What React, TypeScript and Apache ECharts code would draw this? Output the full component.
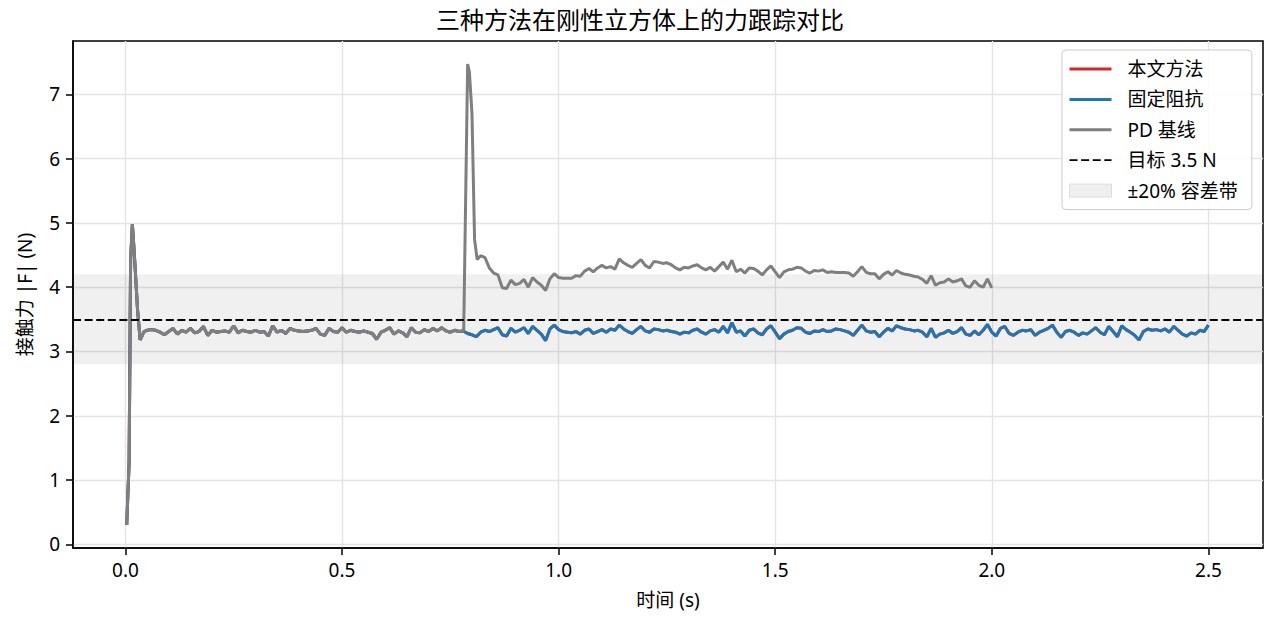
import { useEffect, useRef } from 'react';
import * as echarts from 'echarts';

const FONT = "'Noto Sans', 'Noto Sans CJK SC', sans-serif";
const DT = 0.01;

const X_TICKS = [0, 0.5, 1, 1.5, 2, 2.5];
const Y_TICKS = [0, 1, 2, 3, 4, 5, 6, 7];

const TARGET = 3.5;
const BAND_LOW = 2.8;
const BAND_HIGH = 4.2;

// contact transient, same for every controller
const startupTime = [0.003, 0.0085, 0.012, 0.016, 0.02, 0.028, 0.034, 0.043];
const startupForce = [0.3, 1.27, 4.42, 4.98, 4.58, 3.65, 3.18, 3.31];

// steady contact 0.05 .. 0.78 s, every 0.01 s (curves overlap here)
const sharedStart = 0.05;
const sharedForce = [
  3.33, 3.34, 3.33, 3.3, 3.26, 3.31, 3.36, 3.27, 3.33, 3.3,
  3.36, 3.29, 3.31, 3.39, 3.25, 3.33, 3.3, 3.31, 3.32, 3.3,
  3.4, 3.29, 3.33, 3.31, 3.3, 3.33, 3.3, 3.31, 3.24, 3.4,
  3.3, 3.33, 3.28, 3.36, 3.33, 3.32, 3.31, 3.32, 3.33, 3.36,
  3.27, 3.25, 3.36, 3.31, 3.3, 3.37, 3.3, 3.33, 3.31, 3.3,
  3.32, 3.3, 3.28, 3.19, 3.3, 3.33, 3.37, 3.27, 3.32, 3.29,
  3.23, 3.37, 3.3, 3.29, 3.34, 3.31, 3.36, 3.32, 3.37, 3.32,
  3.3, 3.33, 3.31, 3.32,
];

// fixed impedance 0.79 .. 2.50 s
const impedanceStart = 0.79;
const impedanceForce = [
  3.28, 3.26, 3.23, 3.3, 3.33, 3.31, 3.34, 3.37, 3.26, 3.24,
  3.36, 3.3, 3.33, 3.37, 3.28, 3.39, 3.33, 3.27, 3.17, 3.35,
  3.41, 3.34, 3.31, 3.3, 3.29, 3.31, 3.27, 3.33, 3.35, 3.28,
  3.31, 3.34, 3.3, 3.35, 3.33, 3.41, 3.35, 3.31, 3.28, 3.34,
  3.39, 3.32, 3.3, 3.35, 3.34, 3.32, 3.33, 3.31, 3.3, 3.27,
  3.3, 3.29, 3.33, 3.35, 3.3, 3.27, 3.32, 3.34, 3.3, 3.39,
  3.29, 3.45, 3.3, 3.32, 3.24, 3.33, 3.35, 3.29, 3.26, 3.35,
  3.4, 3.3, 3.2, 3.27, 3.31, 3.33, 3.37, 3.36, 3.3, 3.28,
  3.32, 3.31, 3.34, 3.31, 3.32, 3.35, 3.34, 3.32, 3.3, 3.25,
  3.33, 3.41, 3.32, 3.3, 3.31, 3.23, 3.3, 3.36, 3.32, 3.4,
  3.37, 3.35, 3.34, 3.32, 3.33, 3.3, 3.23, 3.36, 3.22, 3.27,
  3.29, 3.33, 3.28, 3.31, 3.37, 3.27, 3.25, 3.32, 3.26, 3.33,
  3.42, 3.3, 3.24, 3.36, 3.39, 3.28, 3.25, 3.3, 3.33, 3.32,
  3.34, 3.25, 3.3, 3.33, 3.36, 3.41, 3.3, 3.22, 3.31, 3.33,
  3.3, 3.25, 3.29, 3.27, 3.32, 3.37, 3.3, 3.26, 3.39, 3.31,
  3.23, 3.4, 3.34, 3.3, 3.25, 3.18, 3.31, 3.35, 3.33, 3.34,
  3.32, 3.35, 3.3, 3.39, 3.33, 3.27, 3.24, 3.29, 3.27, 3.33,
  3.31, 3.41,
];

// PD baseline: impact spike, then 0.82 .. 2.00 s
const pdSpikeTime = [0.781, 0.79, 0.794, 0.8, 0.806, 0.812];
const pdSpikeForce = [3.36, 7.47, 7.35, 6.7, 4.74, 4.43];
const pdStart = 0.82;
const pdForce = [
  4.49, 4.46, 4.3, 4.22, 4.19, 3.99, 3.98, 4.11, 4.04, 4.06,
  4.12, 4.0, 4.15, 4.08, 4.03, 3.95, 4.13, 4.21, 4.15, 4.14,
  4.14, 4.14, 4.18, 4.17, 4.25, 4.29, 4.24, 4.3, 4.34, 4.3,
  4.32, 4.28, 4.44, 4.38, 4.34, 4.31, 4.37, 4.43, 4.34, 4.3,
  4.4, 4.39, 4.37, 4.38, 4.35, 4.3, 4.27, 4.31, 4.3, 4.33,
  4.35, 4.3, 4.27, 4.31, 4.25, 4.32, 4.39, 4.28, 4.42, 4.24,
  4.28, 4.22, 4.3, 4.29, 4.25, 4.19, 4.27, 4.33, 4.24, 4.15,
  4.24, 4.27, 4.28, 4.31, 4.3, 4.25, 4.22, 4.26, 4.25, 4.27,
  4.23, 4.24, 4.23, 4.23, 4.23, 4.22, 4.17, 4.24, 4.32, 4.23,
  4.21, 4.21, 4.13, 4.2, 4.24, 4.19, 4.26, 4.22, 4.2, 4.19,
  4.17, 4.16, 4.12, 4.06, 4.18, 4.03, 4.07, 4.08, 4.13, 4.08,
  4.1, 4.13, 4.02, 4.0, 4.1, 4.03, 4.0, 4.13, 3.99,
];

const pairs = (times: number[], values: number[]) => times.map((t, i) => [t, values[i]]);
const sampled = (t0: number, values: number[]) =>
  values.map((v, i) => [+(t0 + i * DT).toFixed(3), v]);

const head = [...pairs(startupTime, startupForce), ...sampled(sharedStart, sharedForce)];
const impedanceData = [...head, ...sampled(impedanceStart, impedanceForce)];
const pdData = [...head, ...pairs(pdSpikeTime, pdSpikeForce), ...sampled(pdStart, pdForce)];
// proposed method tracks identically here, so it sits under the blue curve
const proposedData = impedanceData;

const lineSeries = (name: string, color: string, data: number[][]) => ({
  name,
  type: 'line',
  data,
  symbol: 'none',
  showSymbol: false,
  lineStyle: { color, width: 3 },
  itemStyle: { color },
  silent: true,
});

// legend entries for lines: hide the marker ECharts puts in the middle
const lineItem = (name: string, width = 3) => ({
  name,
  itemStyle: { opacity: 0 },
  lineStyle: { width },
});

export default function App() {
  const ref = useRef<HTMLDivElement | null>(null);

  useEffect(() => {
    if (!ref.current) {
      return;
    }
    const chart = echarts.init(ref.current, null, { renderer: 'svg' });
    chart.setOption({
      animation: false,
      backgroundColor: '#fff',
      textStyle: { fontFamily: FONT },
      title: {
        text: '三种方法在刚性立方体上的力跟踪对比',
        left: 'center',
        top: 2,
        textStyle: { fontFamily: FONT, fontSize: 24, fontWeight: 'normal', color: '#000' },
      },
      grid: {
        left: 73,
        top: 41,
        right: 17,
        bottom: 71,
        show: true,
        borderColor: '#000',
        borderWidth: 1.5,
        backgroundColor: 'transparent',
      },
      legend: {
        left: 1062,
        top: 50,
        orient: 'vertical',
        padding: [8, 14, 8, 6],
        itemGap: 8.4,
        itemWidth: 42,
        itemHeight: 13,
        backgroundColor: 'rgba(255,255,255,0.85)',
        borderColor: '#cccccc',
        borderWidth: 1,
        borderRadius: 4,
        textStyle: { fontFamily: FONT, fontSize: 19, color: '#000', lineHeight: 22, padding: [0, 0, 0, 11] },
        data: [
          lineItem('本文方法'),
          lineItem('固定阻抗'),
          lineItem('PD 基线'),
          lineItem('目标 3.5 N', 1.8),
          {
            name: '±20% 容差带',
            icon: 'rect',
            itemStyle: { color: '#efefef', borderColor: '#dddddd', borderWidth: 1 },
          },
        ],
      },
      xAxis: {
        type: 'value',
        min: -0.121,
        max: 2.626,
        name: '时间 (s)',
        nameLocation: 'middle',
        nameGap: 42,
        nameTextStyle: { fontFamily: FONT, fontSize: 19, color: '#000' },
        axisLine: { show: true, onZero: false, lineStyle: { color: '#000', width: 1.5 } },
        axisTick: {
          show: true,
          customValues: X_TICKS,
          length: 7,
          lineStyle: { color: '#000', width: 1.5 },
        },
        axisLabel: {
          customValues: X_TICKS,
          margin: 12,
          fontFamily: FONT,
          fontSize: 19,
          color: '#000',
          formatter: (v: number) => v.toFixed(1),
        },
        splitLine: { show: true, lineStyle: { color: '#e4e4e4', width: 1.4 } },
      },
      yAxis: {
        type: 'value',
        min: -0.057,
        max: 7.83,
        name: '接触力 |F| (N)',
        nameLocation: 'middle',
        nameGap: 39,
        nameTextStyle: { fontFamily: FONT, fontSize: 19, color: '#000' },
        axisLine: { show: true, onZero: false, lineStyle: { color: '#000', width: 1.5 } },
        axisTick: {
          show: true,
          customValues: Y_TICKS,
          length: 7,
          lineStyle: { color: '#000', width: 1.5 },
        },
        axisLabel: {
          customValues: Y_TICKS,
          margin: 13,
          fontFamily: FONT,
          fontSize: 19,
          color: '#000',
          formatter: (v: number) => String(Math.round(v)),
        },
        splitLine: { show: true, lineStyle: { color: '#e4e4e4', width: 1.4 } },
      },
      series: [
        {
          name: '±20% 容差带',
          type: 'line',
          data: [],
          symbol: 'none',
          itemStyle: { color: '#efefef' },
          lineStyle: { width: 0 },
          silent: true,
          markArea: {
            silent: true,
            itemStyle: { color: 'rgba(0,0,0,0.06)' },
            data: [[{ yAxis: BAND_LOW }, { yAxis: BAND_HIGH }]],
          },
        },
        lineSeries('本文方法', '#d62728', proposedData),
        lineSeries('固定阻抗', '#1f77b4', impedanceData),
        lineSeries('PD 基线', '#7f7f7f', pdData),
        {
          name: '目标 3.5 N',
          type: 'line',
          data: [],
          symbol: 'none',
          itemStyle: { color: '#000' },
          lineStyle: { color: '#000', width: 1.8, type: [8, 3.6] },
          silent: true,
          markLine: {
            silent: true,
            symbol: 'none',
            label: { show: false },
            lineStyle: { color: '#000', width: 1.8, type: [8, 3.6] },
            data: [{ yAxis: TARGET }],
          },
        },
      ],
    });
    return () => {
      chart.dispose();
    };
  }, []);

  return <div ref={ref} style={{ position: 'fixed', left: 0, top: 0, width: 1280, height: 619 }} />;
}
